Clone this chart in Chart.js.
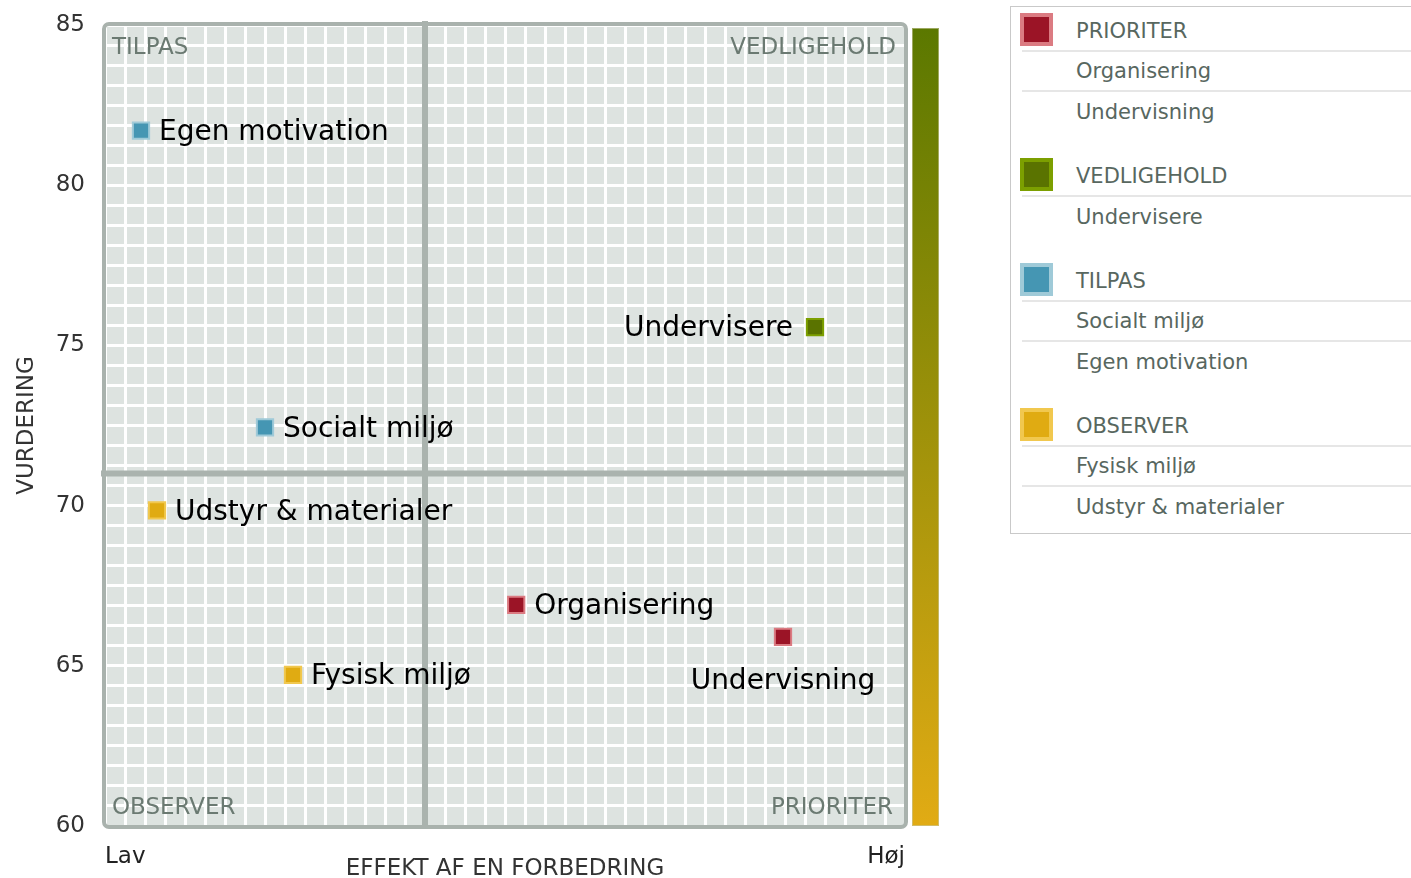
<!DOCTYPE html>
<html>
<head>
<meta charset="utf-8">
<script src="https://cdn.jsdelivr.net/npm/chart.js@4/dist/chart.umd.min.js"></script>
<style>
  html, body { margin: 0; padding: 0; background: #fff; overflow: hidden; width: 1411px; height: 878px; }
  #wrap { position: absolute; left: 0; top: 0; width: 960px; height: 878px; }
  #legend { position: absolute; left: 1010px; top: 6px; width: 410px; border: 1px solid #c9c9c9;
            padding: 5px 0 6px 0; font-family: "DejaVu Sans", sans-serif; font-size: 21px; color: #58675f; }
  .grp { margin-bottom: 25px; }
  .grp:last-child { margin-bottom: 0; }
  .row { position: relative; margin-left: 11px; padding-left: 54px; height: 38px; line-height: 38px;
         border-bottom: 2px solid #e6e6e6; white-space: nowrap; }
  .row.last { border-bottom: none; height: 40px; line-height: 40px; }
  .sw { position: absolute; left: -2px; top: 1px; width: 25px; height: 25px; border: 4px solid; }
</style>
</head>
<body>
<div id="wrap"><canvas id="c"></canvas></div>
<div id="legend"></div>
<script>
// ---- data ----
const categories = ['PRIORITER', 'VEDLIGEHOLD', 'TILPAS', 'OBSERVER'];
const prioriterItems = ['Organisering', 'Undervisning'];
const prioriterEffekt = [51.4, 84.75];
const prioriterVurdering = [66.9, 65.9];
const vedligeholdItems = ['Undervisere'];
const vedligeholdEffekt = [88.75];
const vedligeholdVurdering = [75.57];
const tilpasItems = ['Socialt miljø', 'Egen motivation'];
const tilpasEffekt = [20, 4.5];
const tilpasVurdering = [72.44, 81.7];
const observerItems = ['Fysisk miljø', 'Udstyr & materialer'];
const observerEffekt = [23.5, 6.5];
const observerVurdering = [64.72, 69.85];
const quadrantLabels = ['TILPAS', 'VEDLIGEHOLD', 'OBSERVER', 'PRIORITER'];
const xTickLabels = ['Lav', 'Høj'];
const yTickValues = [60, 65, 70, 75, 80, 85];
const xTitle = 'EFFEKT AF EN FORBEDRING';
const yTitle = 'VURDERING';
const xDivider = 40;
const yDivider = 71;

// ---- styles ----
const fillColors = ['#9b1426', '#5a7300', '#4596b3', '#e0ab12'];
const edgeColors = ['#db7b82', '#7c9f00', '#9fcad8', '#f1c84f'];
const labelPlacement = { 'Undervisere': 'left', 'Undervisning': 'below' };
const FONT = '"DejaVu Sans", sans-serif';

const groups = [
  [prioriterItems, prioriterEffekt, prioriterVurdering],
  [vedligeholdItems, vedligeholdEffekt, vedligeholdVurdering],
  [tilpasItems, tilpasEffekt, tilpasVurdering],
  [observerItems, observerEffekt, observerVurdering]
];

const datasets = categories.map((cat, i) => ({
  label: cat,
  data: groups[i][0].map((name, j) => ({ x: groups[i][1][j], y: groups[i][2][j], name })),
  pointStyle: 'rect',
  pointRadius: 11.5,
  pointHoverRadius: 11.5,
  backgroundColor: fillColors[i],
  borderColor: edgeColors[i],
  borderWidth: 2
}));

const decor = {
  id: 'decor',
  beforeDraw(chart) {
    const { ctx, chartArea: a } = chart;
    ctx.save();
    ctx.fillStyle = '#dde3e0';
    ctx.fillRect(a.left, a.top, a.right - a.left, a.bottom - a.top);
    ctx.restore();
  },
  beforeDatasetsDraw(chart) {
    const { ctx, chartArea: a, scales } = chart;
    ctx.save();
    // quadrant dividers
    ctx.strokeStyle = '#aab3ae';
    ctx.lineWidth = 6;
    const xm = scales.x.getPixelForValue(xDivider);
    const ym = scales.y.getPixelForValue(yDivider);
    ctx.beginPath();
    ctx.moveTo(xm, a.top - 4); ctx.lineTo(xm, a.bottom);
    ctx.moveTo(a.left - 4, ym); ctx.lineTo(a.right, ym);
    ctx.stroke();
    // frame
    ctx.lineWidth = 4;
    ctx.strokeStyle = '#a9b2ad';
    const r = 5;
    const l = a.left - 1, t = a.top - 1, w = a.right - a.left + 2, h = a.bottom - a.top + 2;
    ctx.beginPath();
    ctx.roundRect(l, t, w, h, r);
    ctx.stroke();
    // quadrant labels
    ctx.fillStyle = '#6b7a72';
    ctx.font = '23px ' + FONT;
    ctx.textBaseline = 'middle';
    ctx.textAlign = 'left';
    ctx.fillText(quadrantLabels[0], a.left + 7, a.top + 23);
    ctx.fillText(quadrantLabels[2], a.left + 7, a.bottom - 18);
    ctx.textAlign = 'right';
    ctx.fillText(quadrantLabels[1], a.right - 9, a.top + 23);
    ctx.fillText(quadrantLabels[3], a.right - 12, a.bottom - 18);
    // colour bar
    const bx = a.right + 7, bw = 27, bt = a.top + 3, bb = a.bottom;
    const g = ctx.createLinearGradient(0, bt, 0, bb);
    g.addColorStop(0, '#5b7800');
    g.addColorStop(1, '#e1ab14');
    ctx.fillStyle = g;
    ctx.fillRect(bx, bt, bw, bb - bt);
    ctx.strokeStyle = 'rgba(200,200,160,0.6)';
    ctx.lineWidth = 1;
    ctx.strokeRect(bx + 0.5, bt + 0.5, bw - 1, bb - bt - 1);
    ctx.restore();
  },
  afterDatasetsDraw(chart) {
    const { ctx } = chart;
    ctx.save();
    ctx.font = '28px ' + FONT;
    ctx.fillStyle = '#000';
    ctx.textBaseline = 'middle';
    chart.data.datasets.forEach((ds, i) => {
      const meta = chart.getDatasetMeta(i);
      meta.data.forEach((pt, j) => {
        const name = ds.data[j].name;
        const place = labelPlacement[name] || 'right';
        if (place === 'left') {
          ctx.textAlign = 'right';
          ctx.fillText(name, pt.x - 22, pt.y + 2);
        } else if (place === 'below') {
          ctx.textAlign = 'center';
          ctx.fillText(name, pt.x, pt.y + 45);
        } else {
          ctx.textAlign = 'left';
          ctx.fillText(name, pt.x + 18, pt.y + 2);
        }
      });
    });
    ctx.restore();
  }
};

new Chart(document.getElementById('c'), {
  type: 'scatter',
  data: { datasets },
  plugins: [decor],
  options: {
    responsive: true,
    maintainAspectRatio: false,
    animation: false,
    layout: { padding: { top: 25, right: 55, bottom: 0, left: 0 } },
    plugins: { legend: { display: false }, tooltip: { enabled: false } },
    events: [],
    scales: {
      x: {
        type: 'linear', min: 0, max: 100,
        afterFit(s) { s.height = 52; s.paddingLeft = 0; s.paddingRight = 0; },
        grid: { color: '#ffffff', lineWidth: 3, drawTicks: false },
        border: { display: false },
        ticks: {
          stepSize: 2.5, autoSkip: false, maxRotation: 0, align: 'inner', padding: 17,
          color: '#222', font: { family: FONT, size: 23 },
          callback: v => v === 0 ? xTickLabels[0] : (v === 100 ? xTickLabels[1] : '')
        },
        title: { display: true, text: xTitle, color: '#333', font: { family: FONT, size: 23, lineHeight: 0.8 }, padding: { top: 0, bottom: 0 } }
      },
      y: {
        type: 'linear', min: 60, max: 85,
        afterFit(s) { s.width = 105; s.paddingTop = 0; s.paddingBottom = 0; },
        grid: { color: '#ffffff', lineWidth: 3, drawTicks: false },
        border: { display: false },
        ticks: {
          stepSize: 0.625, autoSkip: false, padding: 20,
          color: '#333', font: { family: FONT, size: 23 },
          callback: v => yTickValues.includes(v) ? String(v) : ''
        },
        title: { display: true, text: yTitle, color: '#333', font: { family: FONT, size: 23, lineHeight: 1 }, padding: { top: 16, bottom: 0 } }
      }
    }
  }
});

// ---- HTML legend ----
const legend = document.getElementById('legend');
categories.forEach((cat, i) => {
  const grp = document.createElement('div');
  grp.className = 'grp';
  const items = groups[i][0];
  const rows = [cat].concat(items);
  rows.forEach((txt, k) => {
    const row = document.createElement('div');
    row.className = 'row' + (k === rows.length - 1 ? ' last' : '');
    if (k === 0) {
      const sw = document.createElement('span');
      sw.className = 'sw';
      sw.style.background = fillColors[i];
      sw.style.borderColor = edgeColors[i];
      row.appendChild(sw);
    }
    row.appendChild(document.createTextNode(txt));
    grp.appendChild(row);
  });
  legend.appendChild(grp);
});
</script>
</body>
</html>
